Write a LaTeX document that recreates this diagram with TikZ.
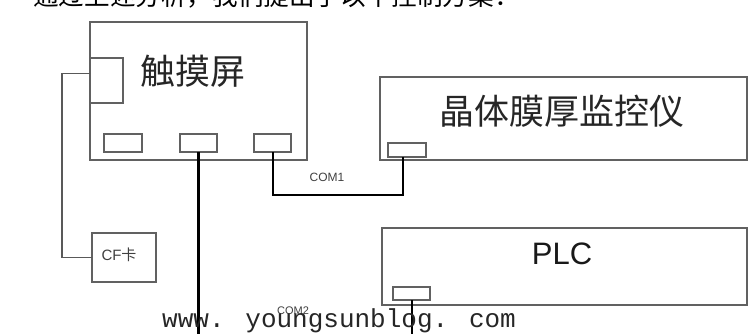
\documentclass[tikz,border=0pt]{standalone}
\usepackage{fontspec}
\setmainfont{Liberation Sans}
\newfontfamily\cjk{Noto Sans CJK SC}
\newfontfamily\wm{Liberation Mono}
\begin{document}
\begin{tikzpicture}[x=1pt,y=-1pt,
  box/.style={draw=black!62, line width=1.5pt, inner sep=0pt, outer sep=0pt, anchor=north west},
  port/.style={draw=black!62, line width=1.4pt, inner sep=0pt, outer sep=0pt, anchor=north west},
  wire/.style={draw=black, line width=2pt},
  gwire/.style={draw=black!65, line width=1.5pt},
  big/.style={font=\cjk\fontsize{35}{35}\selectfont, text=black!85, inner sep=0pt},
  lbl/.style={font=\fontsize{12}{12}\selectfont, text=black!75, inner sep=0pt}]
\useasboundingbox (0,0) rectangle (749,334);
\clip (0,0) rectangle (749,334);
\fill[white] (0,0) rectangle (749,334);
% top clipped sentence
\node[anchor=base west, inner sep=0pt, font=\cjk\fontsize{25.6}{25.6}\selectfont] (top) at (33,6) {通过上述分析，我们提出了以下控制方案：};
% touch screen
\node[box, minimum width=217pt, minimum height=138pt] (touch) at (90,22) {};
\node[big] (touchlbl) at (193,71) {触摸屏};
\node[box, minimum width=33pt, minimum height=45pt] (cfin) at (90,58) {};
\node[port, minimum width=38pt, minimum height=18pt] (p1) at (104,134) {};
\node[port, minimum width=37pt, minimum height=18pt] (p2) at (180,134) {};
\node[port, minimum width=37pt, minimum height=18pt] (p3) at (254,134) {};
% CF card
\node[box, minimum width=64pt, minimum height=49pt] (cf) at (92,233) {};
\node[inner sep=0pt, font=\fontsize{15}{15}\selectfont, text=black!75] (cflbl) at (119,255) {CF\cjk 卡};
% crystal monitor
\node[box, minimum width=367pt, minimum height=83pt] (cryst) at (380,77) {};
\node[big] (crystlbl) at (562,111) {晶体膜厚监控仪};
\node[port, minimum width=38pt, minimum height=14pt] (cport) at (388,143) {};
% PLC
\node[box, minimum width=365pt, minimum height=77pt] (plc) at (382,228) {};
\node[inner sep=0pt, font=\fontsize{31}{31}\selectfont, text=black!90] (plclbl) at (562,254) {PLC};
\node[port, minimum width=37pt, minimum height=13pt] (pport) at (393,287) {};
% wires
\coordinate (p2end) at (198.5,340);
\coordinate (pend) at (411.5,340);
\draw[gwire] ([yshift=7pt]cfin.west) -- ++(-28,0) |- (cf.west);
\draw[wire, line width=2.4pt] (p2.south) -- (p2end);
\draw[wire] (p3.south) -- ++(0,43) -| ([xshift=-4pt]cport.south);
\draw[wire] (pport.south) -- (pend);
\node[lbl] (com1) at (327,177) {COM1};
\node[lbl, font=\fontsize{11}{11}\selectfont] (com2) at (293,311) {COM2};
% watermark
\node[anchor=base west, inner sep=0pt, font=\wm\fontsize{26}{26}\selectfont, text=black!85] (wmk) at (162,327) {www. youngsunblog. com};
\end{tikzpicture}
\end{document}
